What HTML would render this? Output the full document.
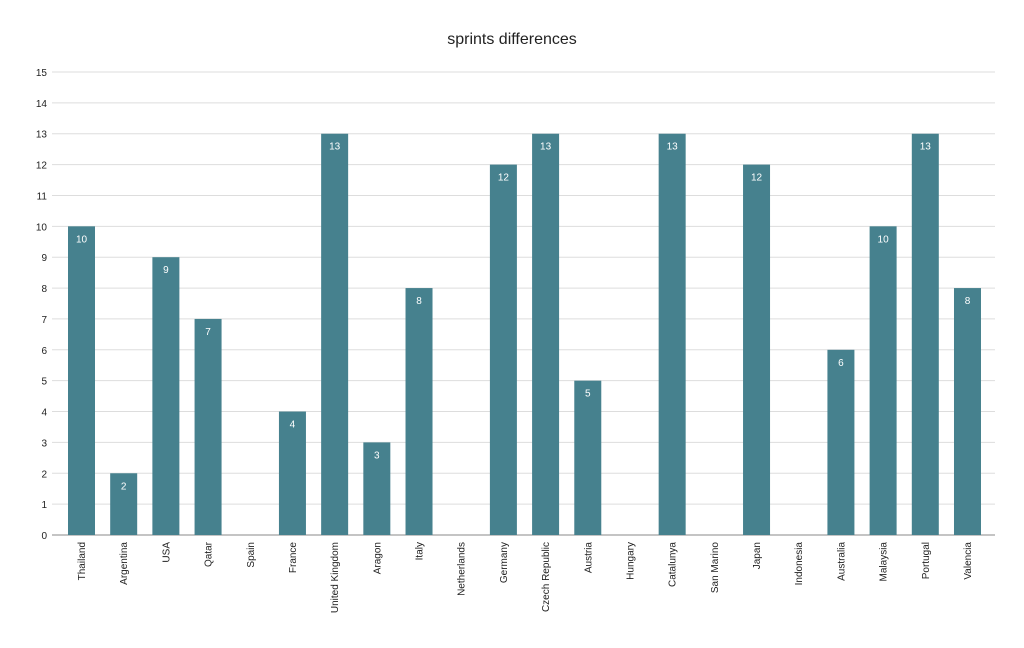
<!DOCTYPE html>
<html><head><meta charset="utf-8"><style>
body{margin:0;background:#fff}
text{font-family:"Liberation Sans",Arial,sans-serif}
</style></head><body>
<svg width="1024" height="643" viewBox="0 0 1024 643" xmlns="http://www.w3.org/2000/svg">
<rect width="1024" height="643" fill="#fff"/>
<text x="512" y="44" text-anchor="middle" font-size="16" fill="#222">sprints differences</text>
<g id="grid"></g>
<g id="bars"></g>
</svg>
<script>
const ns="http://www.w3.org/2000/svg";
const g=document.getElementById('grid'),b=document.getElementById('bars');
function el(t,a,p,txt){const e=document.createElementNS(ns,t);for(const k in a)e.setAttribute(k,a[k]);if(txt!==undefined)e.textContent=txt;p.appendChild(e);return e;}
const y0=535,u=463/15;
for(let i=0;i<=15;i++){const y=y0-i*u;
 el('line',{x1:52,x2:995,y1:y,y2:y,stroke:i==0?'#888':'#ddd','stroke-width':1},g);
 el('text',{x:47,y:y+4,'text-anchor':'end','font-size':10,fill:'#222'},g,i);}
const names=["Thailand","Argentina","USA","Qatar","Spain","France","United Kingdom","Aragon","Italy","Netherlands","Germany","Czech Republic","Austria","Hungary","Catalunya","San Marino","Japan","Indonesia","Australia","Malaysia","Portugal","Valencia"];
const vals=[10,2,9,7,0,4,13,3,8,0,12,13,5,0,13,0,12,0,6,10,13,8];
names.forEach((n,i)=>{const cx=81.5+i*42.19;const v=vals[i];
 if(v>0){const top=y0-v*u;
  el('rect',{x:cx-13.5,y:top,width:27,height:v*u,fill:'#46818e'},b);
  el('text',{x:cx,y:top+16,'text-anchor':'middle','font-size':10,fill:'#fff'},b,v);}
 el('text',{x:0,y:0,'text-anchor':'end','font-size':10,fill:'#222',transform:`translate(${cx+3.5},542) rotate(-90)`},b,n);
});
</script>
</body></html>
